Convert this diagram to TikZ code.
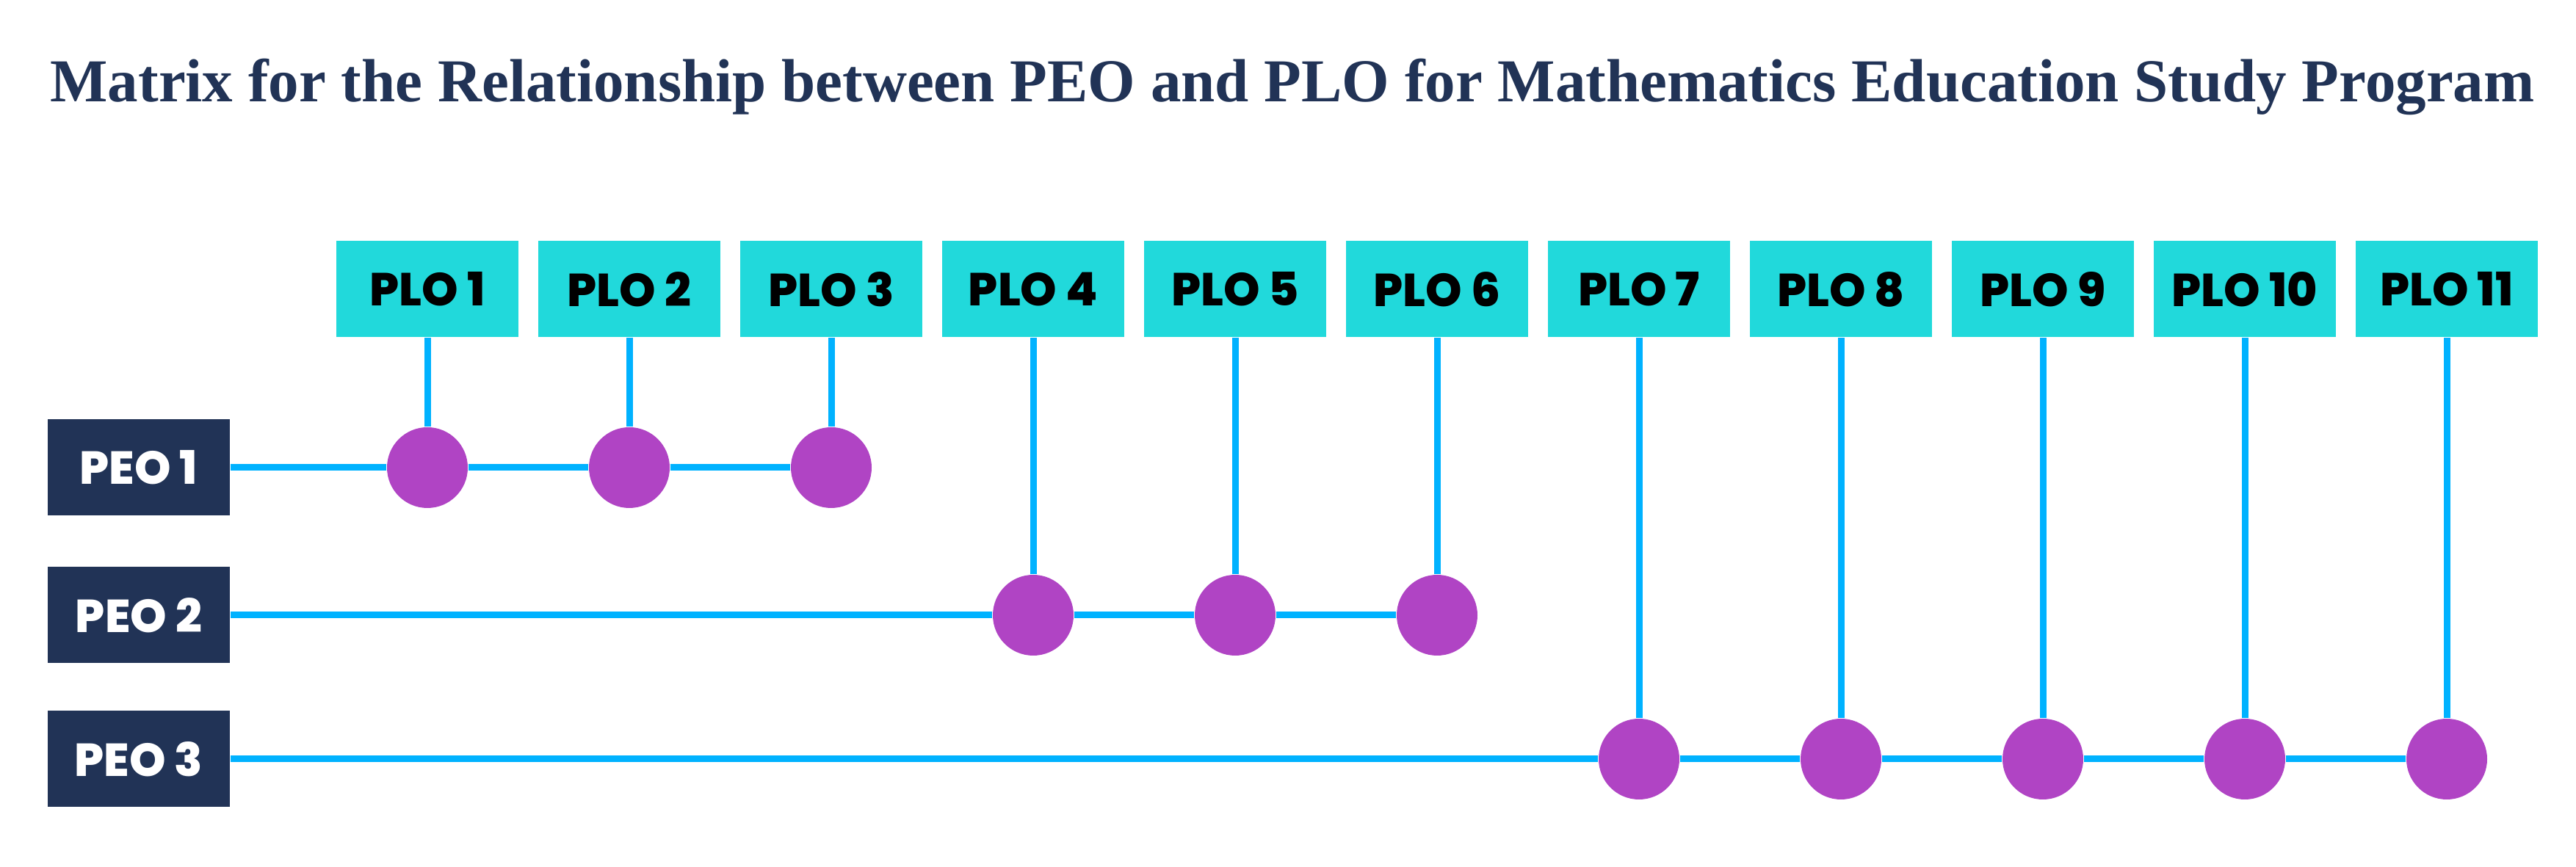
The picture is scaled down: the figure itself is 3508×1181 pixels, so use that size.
\documentclass[tikz,border=0pt]{standalone}
\usepackage{fontspec}
\setmainfont{Liberation Serif}
\newfontfamily\plofont{Poppins ExtraBold}
\definecolor{plocyan}{RGB}{33,217,219}
\definecolor{peonavy}{RGB}{33,51,86}
\definecolor{lineblue}{RGB}{0,178,255}
\definecolor{dotpurple}{RGB}{176,68,196}
\begin{document}
\begin{tikzpicture}[x=0.2pt,y=0.2pt,
  plo/.style={fill=plocyan,minimum width=49.6pt,minimum height=26.2pt,inner sep=0pt,font=\plofont\fontsize{12.6}{12.6}\selectfont},
  peo/.style={fill=peonavy,text=white,minimum width=49.6pt,minimum height=26.2pt,inner sep=0pt,font=\plofont\fontsize{12.6}{12.6}\selectfont},
  link/.style={draw=lineblue,line width=1.8pt},
  dot/.style={circle,fill=dotpurple,minimum size=22pt,inner sep=0pt}]
\useasboundingbox (0,0) rectangle (3508,-1181);
\node[text=peonavy,font=\bfseries\fontsize{16.6}{17}\selectfont,anchor=base] (title) at (1760,-139) {Matrix for the Relationship between PEO and PLO for Mathematics Education Study Program};
\node[plo] (plo1) at (582,-394) {PLO 1};
\node[plo] (plo2) at (857,-394) {PLO 2};
\node[plo] (plo3) at (1132,-394) {PLO 3};
\node[plo] (plo4) at (1407,-394) {PLO 4};
\node[plo] (plo5) at (1682,-394) {PLO 5};
\node[plo] (plo6) at (1957,-394) {PLO 6};
\node[plo] (plo7) at (2232,-394) {PLO 7};
\node[plo] (plo8) at (2507,-394) {PLO 8};
\node[plo] (plo9) at (2782,-394) {PLO 9};
\node[plo] (plo10) at (3057,-394) {PLO 10};
\node[plo] (plo11) at (3332,-394) {PLO 11};
\node[peo] (peo1) at (189,-637) {PEO 1};
\node[peo] (peo2) at (189,-838) {PEO 2};
\node[peo] (peo3) at (189,-1034) {PEO 3};
\node[dot] (d1) at (582,-637) {};
\node[dot] (d2) at (857,-637) {};
\node[dot] (d3) at (1132,-637) {};
\node[dot] (d4) at (1407,-838) {};
\node[dot] (d5) at (1682,-838) {};
\node[dot] (d6) at (1957,-838) {};
\node[dot] (d7) at (2232,-1034) {};
\node[dot] (d8) at (2507,-1034) {};
\node[dot] (d9) at (2782,-1034) {};
\node[dot] (d10) at (3057,-1034) {};
\node[dot] (d11) at (3332,-1034) {};
\draw[link] (peo1) -- (d1) -- (d2) -- (d3);
\draw[link] (peo2) -- (d4) -- (d5) -- (d6);
\draw[link] (peo3) -- (d7) -- (d8) -- (d9) -- (d10) -- (d11);
\draw[link] (plo1) -- (d1);
\draw[link] (plo2) -- (d2);
\draw[link] (plo3) -- (d3);
\draw[link] (plo4) -- (d4);
\draw[link] (plo5) -- (d5);
\draw[link] (plo6) -- (d6);
\draw[link] (plo7) -- (d7);
\draw[link] (plo8) -- (d8);
\draw[link] (plo9) -- (d9);
\draw[link] (plo10) -- (d10);
\draw[link] (plo11) -- (d11);
\end{tikzpicture}
\end{document}
